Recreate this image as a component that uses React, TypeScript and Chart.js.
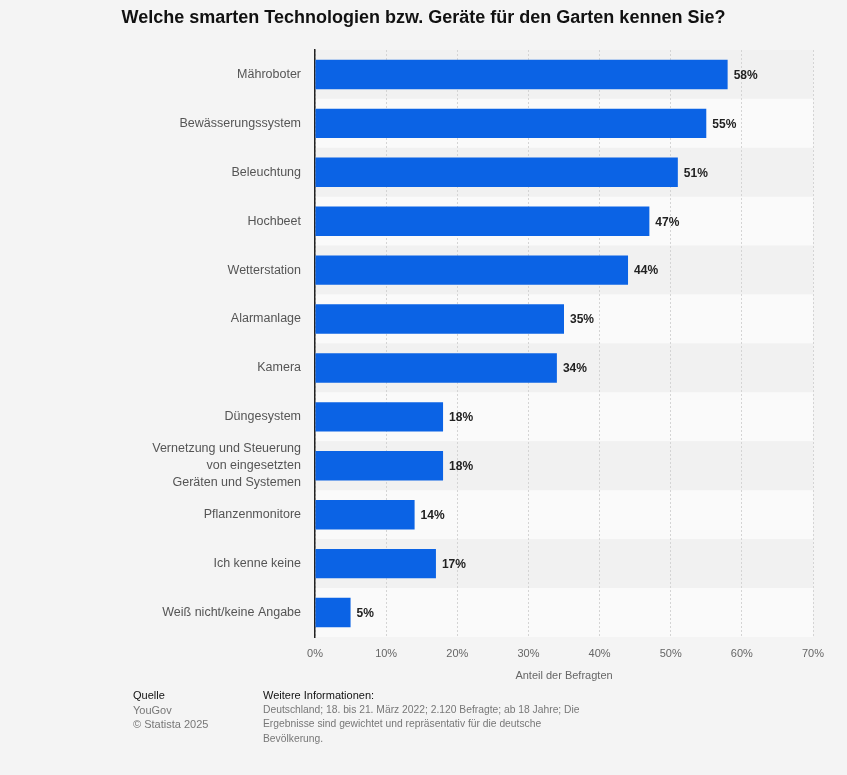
import React, { useEffect, useRef } from "react";
import { Chart, registerables } from "chart.js";

Chart.register(...registerables);

const categories: (string | string[])[] = [
  "Mähroboter",
  "Bewässerungssystem",
  "Beleuchtung",
  "Hochbeet",
  "Wetterstation",
  "Alarmanlage",
  "Kamera",
  "Düngesystem",
  ["Vernetzung und Steuerung", "von eingesetzten", "Geräten und Systemen"],
  "Pflanzenmonitore",
  "Ich kenne keine",
  "Weiß nicht/keine Angabe",
];
const values: number[] = [58, 55, 51, 47, 44, 35, 34, 18, 18, 14, 17, 5];
const xTicks: number[] = [0, 10, 20, 30, 40, 50, 60, 70];

const titleText = "Welche smarten Technologien bzw. Geräte für den Garten kennen Sie?";
const axisTitle = "Anteil der Befragten";
const sourceLines = ["YouGov", "© Statista 2025"];
const infoLines = [
  "Deutschland; 18. bis 21. März 2022; 2.120 Befragte; ab 18 Jahre; Die",
  "Ergebnisse sind gewichtet und repräsentativ für die deutsche",
  "Bevölkerung.",
];

const FONT = "Arial, 'Liberation Sans', Helvetica, sans-serif";

export default function App() {
  const ref = useRef<HTMLCanvasElement | null>(null);

  useEffect(() => {
    document.body.style.margin = "0";
    document.body.style.background = "#f4f4f4";
    const canvas = ref.current;
    if (!canvas) return;

    const bandBg = {
      id: "bandBg",
      beforeDraw(chart: any) {
        const { ctx, chartArea, scales } = chart;
        const y = scales.y;
        const n = categories.length;
        const h = (chartArea.bottom - chartArea.top) / n;
        ctx.save();
        for (let i = 0; i < n; i++) {
          const c = y.getPixelForValue(i);
          ctx.fillStyle = i % 2 === 0 ? "#f1f1f1" : "#fafafa";
          ctx.fillRect(chartArea.left, c - h / 2, chartArea.right - chartArea.left, h);
        }
        ctx.restore();
      },
    };

    const titlePlugin = {
      id: "customTitle",
      afterDraw(chart: any) {
        const { ctx } = chart;
        ctx.save();
        ctx.font = `bold 18px ${FONT}`;
        ctx.fillStyle = "#111";
        ctx.textAlign = "center";
        ctx.textBaseline = "middle";
        ctx.fillText(titleText, 423.5, 18);
        ctx.restore();
      },
    };

    const labelPlugin = {
      id: "valueLabels",
      afterDatasetsDraw(chart: any) {
        const { ctx } = chart;
        const meta = chart.getDatasetMeta(0);
        ctx.save();
        ctx.font = `bold 12px ${FONT}`;
        ctx.fillStyle = "#222";
        ctx.textAlign = "left";
        ctx.textBaseline = "middle";
        meta.data.forEach((bar: any, i: number) => {
          ctx.fillText(values[i] + "%", bar.x + 6, bar.y + 1);
        });
        ctx.restore();
      },
    };

    const chart = new Chart(canvas, {
      type: "bar",
      data: {
        labels: categories,
        datasets: [
          {
            data: values,
            backgroundColor: "#0b63e5",
            borderWidth: 0,
            categoryPercentage: 1,
            barPercentage: 0.6,
          },
        ],
      },
      options: {
        indexAxis: "y",
        animation: false,
        responsive: false,
        maintainAspectRatio: false,
        layout: { padding: { top: 50, right: 34, left: 0, bottom: 0 } },
        plugins: {
          legend: { display: false },
          tooltip: { enabled: false },
          title: { display: false },
        },
        scales: {
          x: {
            min: 0,
            max: 70,
            afterBuildTicks(scale: any) {
              scale.ticks = xTicks.map((v) => ({ value: v }));
            },
            afterFit(scale: any) {
              scale.height = 53;
            },
            grid: {
              color: "#d4d4d4",
              lineWidth: 1,
              drawTicks: false,
            },
            border: { display: false, dash: [2, 2] },
            ticks: {
              padding: 10,
              color: "#666",
              font: { family: FONT, size: 11 },
              callback: (v: any) => v + "%",
            },
            title: {
              display: true,
              text: axisTitle,
              color: "#666",
              font: { family: FONT, size: 11 },
              padding: { top: 4, bottom: 7 },
            },
          },
          y: {
            afterFit(scale: any) {
              scale.width = 315;
            },
            grid: { display: false, drawTicks: false },
            border: { display: true, color: "#222", width: 1.5 },
            ticks: {
              autoSkip: false,
              padding: 14,
              color: "#555",
              font: { family: FONT, size: 12.5, lineHeight: 1.36 },
            },
          },
        },
      },
      plugins: [bandBg, titlePlugin, labelPlugin],
    });

    return () => chart.destroy();
  }, []);

  const small: React.CSSProperties = {
    fontFamily: FONT,
    fontSize: 11,
    lineHeight: "14.5px",
    color: "#777",
    margin: 0,
  };

  return (
    <div style={{ position: "relative", width: 847, height: 775, background: "#f4f4f4" }}>
      <canvas ref={ref} width={847} height={690} style={{ display: "block", width: 847, height: 690 }} />
      <div style={{ position: "absolute", left: 133, top: 688 }}>
        <div style={{ ...small, color: "#111" }}>Quelle</div>
        {sourceLines.map((l) => (
          <div key={l} style={small}>{l}</div>
        ))}
      </div>
      <div style={{ position: "absolute", left: 263, top: 688 }}>
        <div style={{ ...small, color: "#111" }}>Weitere Informationen:</div>
        {infoLines.map((l) => (
          <div key={l} style={{ ...small, fontSize: 10.3 }}>{l}</div>
        ))}
      </div>
    </div>
  );
}
